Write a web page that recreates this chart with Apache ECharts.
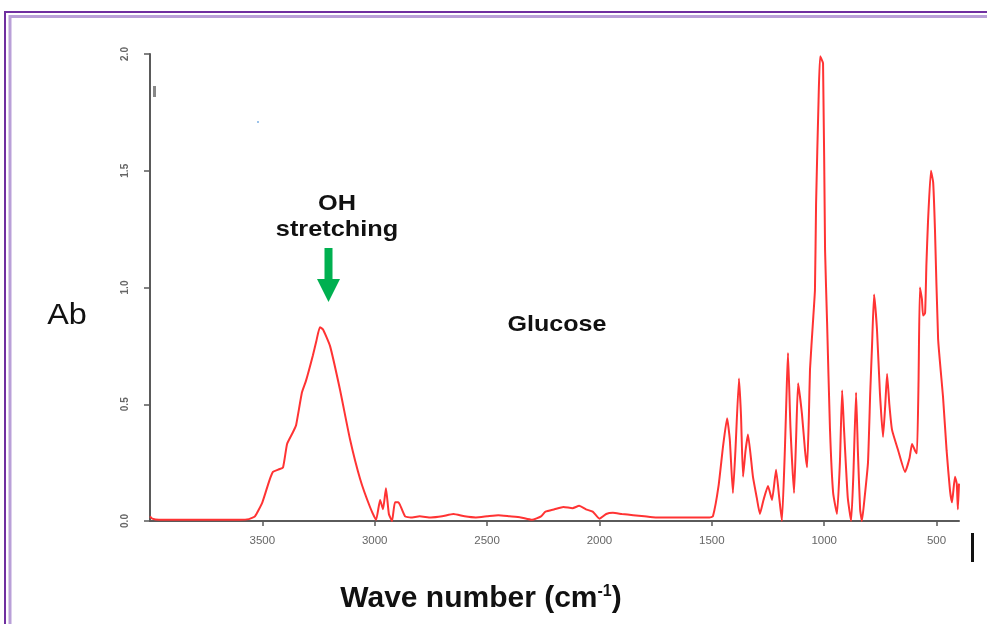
<!DOCTYPE html>
<html><head><meta charset="utf-8">
<script src="https://cdn.jsdelivr.net/npm/echarts@6/dist/echarts.min.js"></script>
<style>html,body{margin:0;padding:0;background:#fff}#c{width:987px;height:624px}</style>
</head><body><div id="c"></div>
<script>
// Wavenumber (cm-1) and absorbance
const wavenumbers = [4000,3990,3960,3900,3800,3700,3600,3560,3533,3500,3470,3453,3430,3408,3390,3364,3350,3324,3306,3275,3260,3244,3230,3199,3154,3110,3065,3021,2994,2976,2963,2950,2937,2923,2910,2895,2888,2865,2840,2800,2750,2700,2650,2600,2550,2500,2450,2400,2350,2300,2260,2240,2200,2160,2120,2090,2060,2030,2000,1970,1940,1900,1850,1800,1750,1700,1650,1600,1550,1510,1495,1470,1450,1432,1420,1406,1395,1379,1370,1361,1350,1339,1317,1300,1286,1270,1250,1232,1214,1200,1188,1175,1166,1161,1150,1134,1125,1116,1099,1085,1076,1068,1063,1050,1041,1036,1025,1018,1005,996,987,974,960,943,930,920,912,895,880,870,858,850,840,832,820,805,795,787,778,765,752,738,728,720,710,698,670,640,620,609,595,587,580,574,565,560,551,545,538,525,515,507,493,471,455,440,431,418,410,405,400];
const absorbance = [0.02,0.01,0.005,0.005,0.005,0.005,0.005,0.008,0.02,0.08,0.17,0.21,0.22,0.23,0.33,0.38,0.41,0.55,0.60,0.71,0.77,0.83,0.82,0.75,0.56,0.35,0.18,0.06,0.005,0.09,0.05,0.14,0.03,0.0,0.08,0.08,0.07,0.02,0.015,0.02,0.015,0.02,0.03,0.02,0.015,0.02,0.025,0.02,0.015,0.005,0.02,0.04,0.05,0.06,0.055,0.065,0.05,0.04,0.01,0.03,0.035,0.03,0.025,0.02,0.015,0.015,0.015,0.015,0.015,0.015,0.02,0.15,0.32,0.44,0.35,0.12,0.30,0.61,0.45,0.19,0.30,0.37,0.19,0.10,0.03,0.09,0.15,0.09,0.22,0.10,0.0,0.30,0.59,0.72,0.40,0.12,0.35,0.59,0.46,0.30,0.23,0.45,0.65,0.85,0.99,1.36,1.80,1.99,1.96,1.16,0.85,0.39,0.12,0.03,0.25,0.56,0.40,0.10,0.0,0.20,0.55,0.30,0.05,0.0,0.10,0.25,0.55,0.75,0.97,0.82,0.55,0.36,0.50,0.63,0.50,0.39,0.30,0.21,0.27,0.33,0.30,0.29,0.60,1.00,0.95,0.88,0.89,1.10,1.28,1.50,1.45,1.25,0.78,0.53,0.30,0.13,0.08,0.19,0.16,0.05,0.16];
const xTickValues = [3500,3000,2500,2000,1500,1000,500];
const yTickValues = [0,0.5,1.0,1.5,2.0];

const chart = echarts.init(document.getElementById('c'));
const seriesData = wavenumbers.map((w,i)=>[w,absorbance[i]]);
chart.setOption({
  animation:false,
  backgroundColor:'#ffffff',
  grid:{left:150,right:28,top:54,bottom:103},
  xAxis:{
    type:'value', inverse:true, min:400, max:4000,
    splitLine:{show:false},
    axisLine:{lineStyle:{color:'#5a5a5a',width:2}},
    axisTick:{customValues:xTickValues,length:5,lineStyle:{color:'#5a5a5a',width:1.5}},
    axisLabel:{customValues:xTickValues,color:'#666',fontSize:11.5,fontFamily:'Liberation Sans, Arial',margin:14,
      formatter:v=>String(v)}
  },
  yAxis:{
    type:'value', min:0, max:2, interval:0.5,
    splitLine:{show:false},
    axisLine:{show:true,lineStyle:{color:'#5a5a5a',width:2}},
    axisTick:{show:true,length:6,lineStyle:{color:'#5a5a5a',width:1.5}},
    axisLabel:{rotate:90,color:'#666',fontSize:10,fontWeight:'bold',fontFamily:'Liberation Sans, Arial',margin:20,
      formatter:v=>v.toFixed(1)}
  },
  series:[{
    type:'line', data:seriesData, showSymbol:false, smooth:0.15,
    lineStyle:{color:'#ff3333',width:2}
  }],
  graphic:[
    {type:'rect',shape:{x:5,y:12,width:1100,height:700},style:{fill:'none',stroke:'#7030a0',lineWidth:2},z:100},
    {type:'rect',shape:{x:10,y:16.5,width:1100,height:700},style:{fill:'none',stroke:'#b9a0d8',lineWidth:3},z:100},
    {type:'text',x:337,y:204,scaleX:1.15,style:{text:'OH',x:0,y:0,align:'center',verticalAlign:'middle',font:'bold 22px Liberation Sans, Arial',fill:'#111'}},
    {type:'text',x:337,y:230,scaleX:1.15,style:{text:'stretching',x:0,y:0,align:'center',verticalAlign:'middle',font:'bold 22px Liberation Sans, Arial',fill:'#111'}},
    {type:'polygon',shape:{points:[[324.5,248],[332.5,248],[332.5,279],[340,279],[328.5,302],[317,279],[324.5,279]]},style:{fill:'#00b050'}},
    {type:'text',x:557,y:325,scaleX:1.14,style:{text:'Glucose',x:0,y:0,align:'center',verticalAlign:'middle',font:'bold 22px Liberation Sans, Arial',fill:'#111'}},
    {type:'text',x:67,y:316,scaleX:1.08,style:{text:'Ab',x:0,y:0,align:'center',verticalAlign:'middle',font:'30px Liberation Sans, Arial',fill:'#111'}},
    {type:'text',x:481,y:599,style:{
      text:'{a|Wave number (cm}{s|-1}{a|)}',x:0,y:0,align:'center',verticalAlign:'middle',
      rich:{a:{font:'bold 30px Liberation Sans, Arial',fill:'#111'},s:{font:'bold 16px Liberation Sans, Arial',fill:'#111',verticalAlign:'top',padding:[0,0,12,0]}}
    }},
    {type:'rect',shape:{x:971,y:533,width:3,height:29},style:{fill:'#111'}},
    {type:'rect',shape:{x:153,y:86,width:3,height:11},style:{fill:'#888'}},
    {type:'rect',shape:{x:257,y:121,width:2,height:2},style:{fill:'#9cc3ea'}}
  ]
});
</script>
</body></html>
